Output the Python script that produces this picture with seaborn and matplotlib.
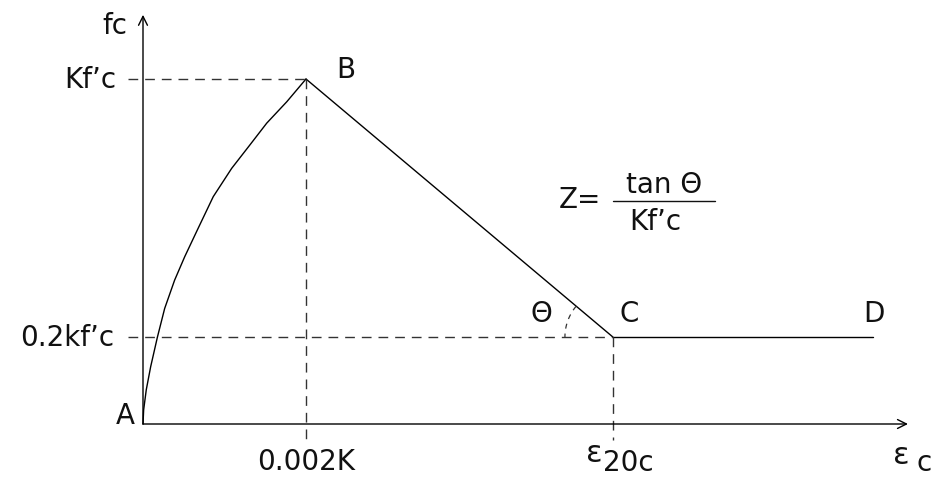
import numpy as np
import pandas as pd
import matplotlib
matplotlib.use("Agg")
import matplotlib.pyplot as plt
import seaborn as sns

# ---- data (normalised: strain / 0.002K, stress / Kf'c) ----
curve_x = [0.0, 0.004, 0.020, 0.047, 0.088, 0.133, 0.194, 0.256, 0.333, 0.431, 0.544, 0.656, 0.759, 0.882, 1.0]
curve_y = [0.0, 0.041, 0.099, 0.166, 0.251, 0.335, 0.417, 0.485, 0.562, 0.659, 0.741, 0.809, 0.872, 0.934, 1.0]
peak_x, peak_y = 1.0, 1.0          # point B
c_x, c_y = 2.883, 0.252            # point C (0.2kf'c, eps_20c)
d_x = 4.479                        # end of plateau D
x_axis_end = 4.693
y_axis_end = 1.186
point_labels = ["A", "B", "C", "D"]
y_tick_labels = ["Kf’c", "0.2kf’c"]
x_tick_labels = ["0.002K"]

sns.set_theme(style="white")
plt.rcParams['font.family'] = ['DejaVu Sans']

W, H = 937, 478
X0, Y0, XS, YS = 143, 424, 163, 345
fig = plt.figure(figsize=(W / 100, H / 100), dpi=100)
ax = fig.add_axes([0, 0, 1, 1])
ax.set_xlim(-X0 / XS, (W - X0) / XS)
ax.set_ylim((Y0 - H) / YS, Y0 / YS)
ax.axis("off")

def P(xp, yp):
    return ((xp - X0) / XS, (Y0 - yp) / YS)

lw = 1.0
# main curve A-B
sns.lineplot(x=curve_x, y=curve_y, ax=ax, color="black", linewidth=lw, sort=False, estimator=None)
# B-C descending branch
sns.lineplot(x=[peak_x, c_x], y=[peak_y, c_y], ax=ax, color="black", linewidth=lw, sort=False, estimator=None)
# C-D plateau
sns.lineplot(x=[c_x, d_x], y=[c_y, c_y], ax=ax, color="black", linewidth=lw, sort=False, estimator=None)

# axes with arrows
ap = dict(arrowstyle="->", color="black", lw=lw, mutation_scale=16, shrinkA=0, shrinkB=0)
ax.annotate("", xy=(x_axis_end, 0), xytext=(0, 0), arrowprops=ap)
ax.annotate("", xy=(0, y_axis_end), xytext=(0, 0), arrowprops=ap)

# dashed guides
dash = dict(color="#333333", linewidth=1.0, linestyle=(0, (7, 5)))
xl = P(128, 0)[0]
ybot = P(0, 440)[1]
ax.plot([xl, peak_x], [peak_y, peak_y], **dash)
ax.plot([xl, c_x], [c_y, c_y], **dash)
ax.plot([peak_x, peak_x], [peak_y, ybot], **dash)
ax.plot([c_x, c_x], [c_y, ybot], **dash)

# angle arc at C
cd = ax.transData.transform((c_x, c_y))
ang = np.deg2rad(np.linspace(140, 180, 20))
r = 48
pts = np.column_stack([cd[0] + r * np.cos(ang), cd[1] + r * np.sin(ang)])
arc = ax.transData.inverted().transform(pts)
ax.plot(arc[:, 0], arc[:, 1], color="#333333", linewidth=0.9, linestyle=(0, (4, 4)))

fs = 20
def T(xp, yp, s, ha="center", va="center", size=fs, **kw):
    x, y = P(xp, yp)
    ax.text(x, y, s, ha=ha, va=va, fontsize=size, color="#111111", **kw)

T(127, 26, "fc", ha="right")
T(116, 80, y_tick_labels[0], ha="right")
T(114, 338, y_tick_labels[1], ha="right")
T(306, 462, x_tick_labels[0])
T(125, 416, point_labels[0])
T(346, 70, point_labels[1])
T(629, 314, point_labels[2])
T(874, 314, point_labels[3])
T(541, 314, "Θ")
# eps labels
T(594, 454, "ε", size=22)
T(603, 463, "20c", ha="left")
T(901, 456, "ε", size=22)
T(917, 463, "c", ha="left")
# Z formula
T(580, 200, "Z=")
T(664, 185, "tan Θ")
xa, ya = P(613, 201)
xb, _ = P(715, 201)
ax.plot([xa, xb], [ya, ya], color="#111111", linewidth=1.0)
T(655, 222, "Kf’c")

fig.savefig("out.png", dpi=100)
